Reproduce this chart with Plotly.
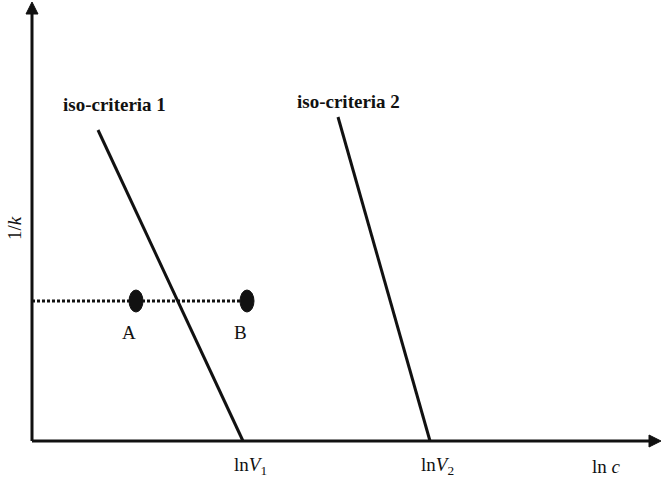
import plotly.graph_objects as go

# Schematic: iso-criteria lines in the (ln c, 1/k) plane
x_max, y_max = 629, 439          # axis extents (arrow tips)
iso1_x = [66, 211]               # iso-criteria 1 endpoints
iso1_y = [311, 0]
iso2_x = [306, 398]              # iso-criteria 2 endpoints
iso2_y = [324, 0]
level_y = 140                    # constant 1/k level
point_names = ["A", "B"]
point_x = [104, 215]
tick_labels = ["ln<i>V</i><sub>1</sub>", "ln<i>V</i><sub>2</sub>", "ln <i>c</i>"]
tick_x = [iso1_x[1], iso2_x[1], 574]
iso_labels = ["iso-criteria 1", "iso-criteria 2"]
iso_label_pos = [(82, 337), (316, 340)]

FONT = "Liberation Serif"
INK = "#111"
fig = go.Figure()

# iso-criteria lines
for xs, ys in [(iso1_x, iso1_y), (iso2_x, iso2_y)]:
    fig.add_trace(go.Scatter(x=xs, y=ys, mode="lines",
                             line=dict(color=INK, width=3), hoverinfo="skip"))

# dotted level line from the axis to point B
fig.add_trace(go.Scatter(x=[0, point_x[1]], y=[level_y, level_y], mode="lines",
                         line=dict(color=INK, width=3, dash="3px,2px"), hoverinfo="skip"))

# axis lines
fig.add_shape(type="line", xref="x", yref="y", x0=0, y0=0, x1=0, y1=y_max - 8,
              line=dict(color=INK, width=3))
fig.add_shape(type="line", xref="x", yref="y", x0=0, y0=0, x1=x_max - 8, y1=0,
              line=dict(color=INK, width=3))
# arrowheads
hw, hl = 6, 12
fig.add_shape(type="path", xref="x", yref="y",
              path=f"M {-hw},{y_max - hl} L 0,{y_max} L {hw},{y_max - hl} Z",
              fillcolor=INK, line=dict(color=INK, width=1))
fig.add_shape(type="path", xref="x", yref="y",
              path=f"M {x_max - hl},{-hw} L {x_max},0 L {x_max - hl},{hw} Z",
              fillcolor=INK, line=dict(color=INK, width=1))

# points A and B as filled ellipses
for name, px in zip(point_names, point_x):
    fig.add_shape(type="circle", xref="x", yref="y",
                  x0=px - 7, x1=px + 7, y0=level_y - 11, y1=level_y + 11,
                  fillcolor=INK, line=dict(color=INK, width=1))
    fig.add_annotation(x=px - 7, y=level_y - 31, text=name, showarrow=False,
                       font=dict(family=FONT, size=19, color=INK))

# tick labels on the ln c axis
for t, tx in zip(tick_labels, tick_x):
    fig.add_annotation(x=tx, y=-25, text=t, showarrow=False,
                       xshift=7 if t != tick_labels[-1] else 0,
                       font=dict(family=FONT, size=19, color=INK))

# iso-criteria labels
for t, (lx, ly) in zip(iso_labels, iso_label_pos):
    fig.add_annotation(x=lx, y=ly, text="<b>" + t + "</b>", showarrow=False,
                       font=dict(family=FONT, size=19, color=INK))

# vertical axis title
fig.add_annotation(x=-18, y=213, text="1/<i>k</i>", showarrow=False, textangle=-90,
                   font=dict(family=FONT, size=19, color=INK))

fig.update_xaxes(range=[-32, 629], visible=False, fixedrange=True)
fig.update_yaxes(range=[-41, 441], visible=False, fixedrange=True)
fig.update_layout(width=661, height=482, margin=dict(l=0, r=0, t=0, b=0),
                  plot_bgcolor="white", paper_bgcolor="white", showlegend=False)

fig.write_html("out.html")
